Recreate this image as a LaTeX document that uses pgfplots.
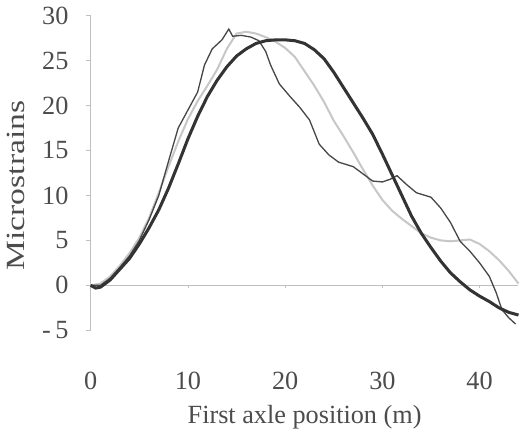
\documentclass[border=0pt]{standalone}
\usepackage{fontspec}
\setmainfont{Liberation Serif}
\usepackage{graphicx}
\usepackage{pgfplots}
\pgfplotsset{compat=1.18}
\begin{document}
\begin{tikzpicture}
\begin{axis}[
  scale only axis, width=212pt, height=156pt,
  xmin=0, xmax=44, ymin=-5, ymax=30,
  axis lines*=left,
  x axis line style={draw=none},
  y axis line style={draw=black!25, line width=0.4pt},
  xtick={0,10,20,30,40},
  ytick={-5,0,5,10,15,20,25,30},
  yticklabels={-\,5,0,5,10,15,20,25,30},
  xtick style={draw=none},
  ytick style={draw=black!25, line width=0.4pt},
  tick align=outside, major tick length=2.5pt,
  /pgf/number format/assume math mode=true,
  tick label style={font=\fontsize{13}{15}\selectfont, text=black!70},
  yticklabel style={xshift=-5pt},
  xticklabel style={yshift=-14.5pt},
  label style={font=\fontsize{13}{15}\selectfont, text=black!70},
  xlabel={First axle position (m)},
  ylabel={\scalebox{1.28}[1]{Microstrains}},
  xlabel style={yshift=-1pt},
  ylabel style={at={(ticklabel cs:0.46)}, yshift=2pt},
  clip=false,
]
\addplot[black!25, line width=0.4pt] coordinates {(0,0) (44,0)};
\draw[black!25, line width=0.4pt] (axis cs:10,0) -- (axis cs:10,-0.3);
\draw[black!25, line width=0.4pt] (axis cs:20,0) -- (axis cs:20,-0.3);
\draw[black!25, line width=0.4pt] (axis cs:30,0) -- (axis cs:30,-0.3);
\draw[black!25, line width=0.4pt] (axis cs:40,0) -- (axis cs:40,-0.3);
% light grey series
\addplot[black!22, line width=1pt] coordinates {
(0,0)(1,0.2)(2,1)(3,2.2)(4,3.6)(5,5.3)(6,7.5)(7,10.3)(8,13.2)(9,16)(10,18.5)(11,20.5)(12,22.2)(13,24)(14,26.3)(15,28)(16,28.2)(17,28)(18,27.6)(19,27.1)(20,26.4)(21,25.4)(22,23.8)(23,22.2)(24,20.4)(25,18.3)(26,16.6)(27,14.8)(28,12.9)(29,11.1)(30,9.5)(31,8.3)(32,7.4)(33,6.6)(34,5.8)(35,5.3)(36,5)(37,4.9)(38,5)(39,5.1)(40,4.6)(41,3.8)(42,2.8)(43,1.6)(44,0.2)};
% thin dark series
\addplot[black!72, line width=0.65pt] coordinates {
(0,0)(1,0)(2,0.8)(3,2)(4,3.3)(5,5)(6,7.3)(7,10)(8,13.8)(9,17.5)(10,19.5)(11,21.5)(11.7,24.5)(12.5,26.3)(13.5,27.3)(14.2,28.5)(14.6,27.7)(15.5,27.8)(16.5,27.6)(17.3,27.2)(18,26)(18.5,24.5)(19.4,22.4)(20.5,21)(21.5,19.8)(22.5,18.4)(23.5,15.7)(24.5,14.5)(25.5,13.7)(27,13.2)(28,12.4)(29,11.6)(30,11.5)(30.8,11.8)(31.5,12.2)(32.5,11.2)(33.5,10.3)(35,9.8)(36,8.6)(37,7)(38,4.9)(39,3.8)(40,2.5)(41,1)(41.7,-0.8)(42.3,-2.7)(43,-3.6)(43.7,-4.3)};
% thick dark series
\addplot[black!80, line width=1.5pt] coordinates {
(0,0)(0.5,-0.3)(1,-0.2)(2,0.6)(3,1.8)(4,3.0)(5,4.6)(6,6.4)(7,8.4)(8,10.8)(9,13.5)(10,16.3)(11,18.8)(12,21)(13,22.8)(14,24.3)(15,25.5)(16,26.3)(17,26.9)(18,27.2)(19,27.3)(20,27.3)(21,27.2)(22,26.9)(23,26.2)(24,25.2)(25,23.7)(26,22)(27,20.3)(28,18.6)(29,16.8)(30,14.6)(31,12.3)(32,10)(33,7.7)(34,5.8)(35,4.2)(36,2.7)(37,1.4)(38,0.4)(39,-0.5)(40,-1.2)(41,-1.8)(42,-2.5)(43,-3.0)(44,-3.3)};
\end{axis}
\end{tikzpicture}
\end{document}
